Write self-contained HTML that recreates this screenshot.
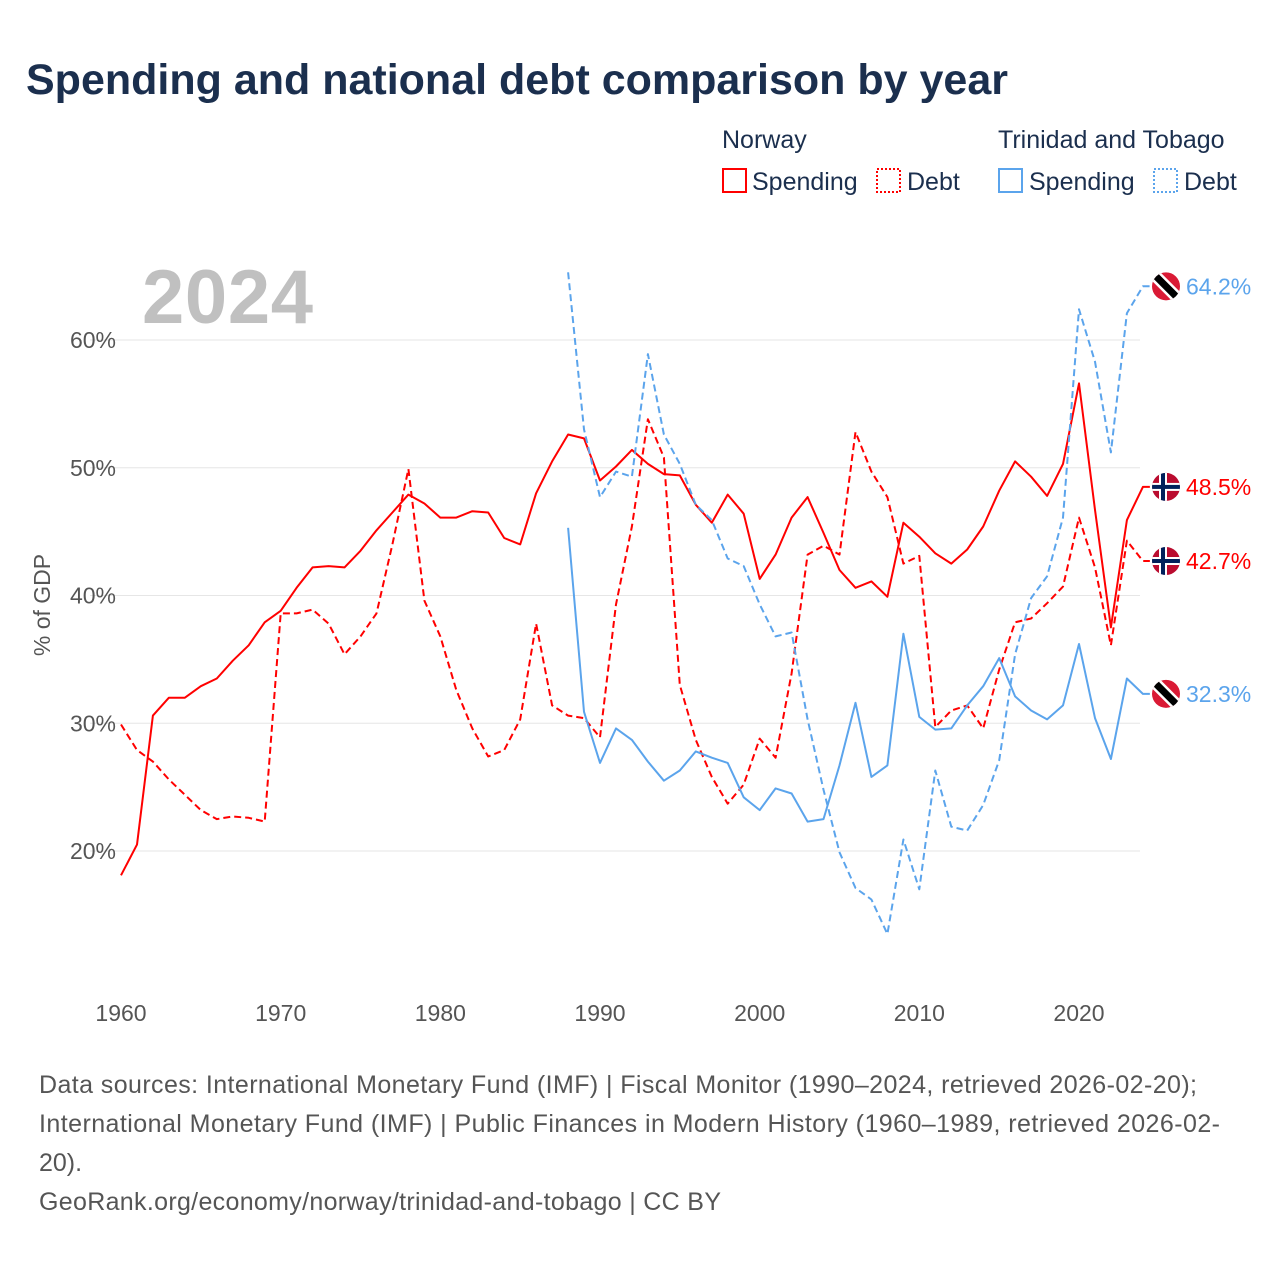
<!DOCTYPE html>
<html><head><meta charset="utf-8"><style>
body{margin:0;background:#fff;font-family:"Liberation Sans",sans-serif;}
</style></head><body>
<svg id="c" width="1280" height="1280" viewBox="0 0 1280 1280" xmlns="http://www.w3.org/2000/svg">
<text x="26" y="94" font-size="43" font-weight="bold" fill="#1b2f4e">Spending and national debt comparison by year</text>
<g font-size="25" fill="#1b2f4e">
<text x="722" y="148">Norway</text>
<text x="998" y="148">Trinidad and Tobago</text>
<rect x="723" y="169" width="23" height="23" fill="none" stroke="#f00" stroke-width="2"/>
<text x="752" y="190">Spending</text>
<rect x="877" y="169" width="23" height="23" fill="none" stroke="#f00" stroke-width="2" stroke-dasharray="2,2"/>
<text x="907" y="190">Debt</text>
<rect x="999" y="169" width="23" height="23" fill="none" stroke="#5ba4ec" stroke-width="2"/>
<text x="1029" y="190">Spending</text>
<rect x="1154" y="169" width="23" height="23" fill="none" stroke="#5ba4ec" stroke-width="2" stroke-dasharray="2,2"/>
<text x="1184" y="190">Debt</text>
</g>
<text x="142" y="323" font-size="76" font-weight="bold" fill="#c0c0c0" textLength="171">2024</text>
<g id="grid"></g><g id="lines"></g><g id="labels"></g>
<text transform="translate(50,605) rotate(-90)" text-anchor="middle" font-size="23" fill="#555">% of GDP</text>
<g font-size="25" fill="#555">
<text x="39" y="1093" textLength="1158">Data sources: International Monetary Fund (IMF) | Fiscal Monitor (1990–2024, retrieved 2026-02-20);</text>
<text x="39" y="1132" textLength="1181">International Monetary Fund (IMF) | Public Finances in Modern History (1960–1989, retrieved 2026-02-</text>
<text x="39" y="1171">20).</text>
<text x="39" y="1210" textLength="682">GeoRank.org/economy/norway/trinidad-and-tobago | CC BY</text>
</g>
</svg>
<script>
const norSpending=[18.1,20.5,30.6,32.0,32.0,32.9,33.5,34.9,36.1,37.9,38.8,40.6,42.2,42.3,42.2,43.5,45.1,46.5,47.9,47.2,46.1,46.1,46.6,46.5,44.5,44.0,48.0,50.5,52.6,52.3,49.0,50.1,51.4,50.3,49.5,49.4,47.1,45.7,47.9,46.4,41.3,43.2,46.1,47.7,44.9,42.0,40.6,41.1,39.9,45.7,44.6,43.3,42.5,43.6,45.4,48.2,50.5,49.3,47.8,50.3,56.6,46.7,37.5,45.9,48.5];
const norDebt=[29.9,27.9,27.0,25.6,24.4,23.2,22.5,22.7,22.6,22.3,38.6,38.6,38.9,37.8,35.4,36.8,38.6,44.0,49.9,39.6,36.8,32.6,29.6,27.4,27.9,30.3,37.8,31.4,30.6,30.4,28.9,39.3,45.4,53.8,50.8,33.0,28.7,25.8,23.7,25.2,28.8,27.3,33.9,43.2,43.9,43.2,52.8,49.7,47.7,42.5,43.1,29.7,31.0,31.4,29.6,34.2,37.9,38.2,39.4,40.7,46.1,42.2,36.1,44.3,42.7];
const ttDebt=[65.3,53.0,47.7,49.7,49.3,58.9,52.6,50.3,47.1,45.9,42.9,42.3,39.3,36.8,37.1,30.3,24.8,19.9,17.1,16.2,13.5,20.9,17.0,26.3,21.9,21.6,23.6,27.1,35.4,39.8,41.5,46.1,62.4,58.3,51.2,62.1,64.2];
const ttSpending=[45.3,30.9,26.9,29.6,28.7,27.0,25.5,26.3,27.8,27.3,26.9,24.2,23.2,24.9,24.5,22.3,22.5,26.7,31.6,25.8,26.7,37.0,30.5,29.5,29.6,31.4,32.9,35.1,32.1,31.0,30.3,31.4,36.2,30.4,27.2,33.5,32.3];
const yTicks=[20,30,40,50,60];
const xTicks=[1960,1970,1980,1990,2000,2010,2020];
const NS="http://www.w3.org/2000/svg";
const X=y=>121+(y-1960)*958/60;
const Y=v=>340+(60-v)*12.775;
function mk(t,a,p){const e=document.createElementNS(NS,t);for(const k in a)e.setAttribute(k,a[k]);p.appendChild(e);return e;}
const grid=document.getElementById('grid'),lines=document.getElementById('lines'),labels=document.getElementById('labels');
yTicks.forEach(v=>{
 const l=mk('line',{x1:90,x2:1140,y1:Y(v),y2:Y(v),stroke:'#e6e6e6','stroke-width':1},grid);
 
 
 const t=mk('text',{x:116,y:Y(v)+8,'text-anchor':'end','font-size':23,fill:'#555'},grid);
 t.textContent=v+'%';
 
 
});
xTicks.forEach(yr=>{
 const t=mk('text',{x:X(yr),y:1021,'text-anchor':'middle','font-size':23,fill:'#555'},grid);
 t.textContent=yr;
 
 
});
function series(arr,start,color,dash,name){
 let d='';arr.forEach((v,i)=>{d+=(i?'L':'M')+X(start+i).toFixed(1)+','+Y(v).toFixed(1);});
 d+='L'+(X(2024)+7)+','+Y(arr[arr.length-1]).toFixed(1);
 const p=mk('path',{d:d,fill:'none',stroke:color,'stroke-width':2,'stroke-dasharray':dash||'none','stroke-linejoin':'round'},lines);
 
 
 return arr[arr.length-1];
}
function badge(v,color,flag,name){
 const y=Y(v),cx=1166;
 const g=mk('g',{},labels);
 
 
 const cid='clip'+name;
 const cp=mk('clipPath',{id:cid},g);mk('circle',{cx:cx,cy:y,r:14},cp);
 const f=mk('g',{'clip-path':'url(#'+cid+')'},g);
 if(flag==='no'){
  mk('rect',{x:cx-15,y:y-15,width:30,height:30,fill:'#ba0c2f'},f);
  mk('rect',{x:cx-15,y:y-4,width:30,height:8,fill:'#fff'},f);
  mk('rect',{x:cx-7,y:y-15,width:8,height:30,fill:'#fff'},f);
  mk('rect',{x:cx-15,y:y-2,width:30,height:4,fill:'#00205b'},f);
  mk('rect',{x:cx-5,y:y-15,width:4,height:30,fill:'#00205b'},f);
 }else{
  mk('rect',{x:cx-15,y:y-15,width:30,height:30,fill:'#da1a35'},f);
  mk('line',{x1:cx-15,y1:y-15,x2:cx+15,y2:y+15,stroke:'#fff','stroke-width':12},f);
  mk('line',{x1:cx-15,y1:y-15,x2:cx+15,y2:y+15,stroke:'#000','stroke-width':7},f);
 }
 const t=mk('text',{x:1186,y:y+8,'font-size':23,fill:color},g);
 t.textContent=v.toFixed(1)+'%';
}
const a=series(norSpending,1960,'#f00',null,'norway-spending-line');
const b=series(norDebt,1960,'#f00','7,4','norway-debt-line');
const c=series(ttSpending,1988,'#5ba4ec',null,'tt-spending-line');
const d=series(ttDebt,1988,'#5ba4ec','7,4','tt-debt-line');
badge(a,'#f00','no','norway-spending-label');
badge(b,'#f00','no','norway-debt-label');
badge(c,'#5ba4ec','tt','tt-spending-label');
badge(d,'#5ba4ec','tt','tt-debt-label');
</script>
</body></html>
